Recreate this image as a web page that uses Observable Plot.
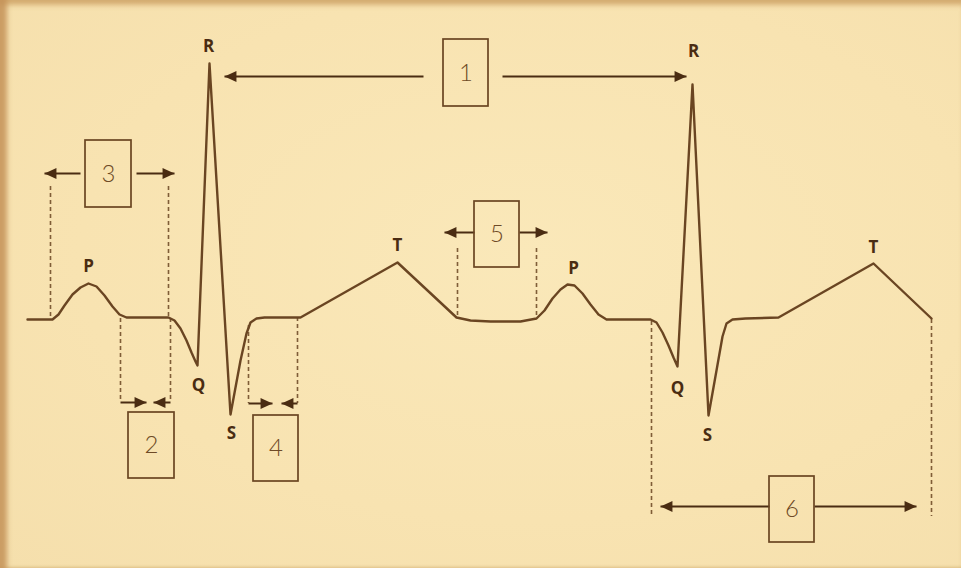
<!DOCTYPE html>
<html>
<head>
<meta charset="utf-8">
<script src="https://cdn.jsdelivr.net/npm/d3@7"></script>
<script src="https://cdn.jsdelivr.net/npm/@observablehq/plot@0.6"></script>
<style>
  html, body { margin: 0; padding: 0; background: #f7e2b0; }
  #chart {
    width: 961px; height: 568px; overflow: hidden;
    background: radial-gradient(ellipse at 55% 45%, #fae8b9 0%, #f8e3b1 60%, #f5dfac 100%);
    box-shadow: inset 10px 0 5px -3px rgba(196,146,88,0.85), inset 0 8px 5px -3px rgba(205,160,100,0.8), inset 0 -3px 3px -2px rgba(200,160,100,0.45);
  }
  #chart svg { background: transparent; display: block; }
</style>
</head>
<body>
<div id="chart"></div>
<script>
// ECG trace (x, y in picture units, y downward)
const waveX = [27, 52, 58, 64, 72, 80, 88, 96, 104, 112, 119, 126, 168, 174, 180, 186, 191, 195, 197, 209, 230, 240, 246, 250, 256, 264, 300, 397, 456, 470, 490, 520, 536, 544, 552, 560, 567, 574, 582, 590, 598, 606, 650, 656, 662, 668, 673, 677, 692, 708, 716, 722, 726, 732, 745, 778, 873, 931];
const waveY = [319, 319, 314, 305, 294, 287, 283, 286, 295, 306, 314, 317, 317, 320, 328, 340, 352, 361, 365, 63, 414, 360, 333, 322, 318, 317, 317, 262, 317, 320, 321, 321, 318, 310, 298, 289, 284, 285, 293, 304, 314, 319, 319, 322, 332, 345, 357, 366, 84, 415, 370, 336, 323, 319, 318, 317, 263, 318];

// wave labels
const waveLabels = ["R", "R", "P", "P", "T", "T", "Q", "Q", "S", "S"];
const waveLabelX = [208, 693, 88, 573, 397, 873, 198, 677, 231, 707];
const waveLabelY = [46, 51, 266, 268, 245, 247, 385, 388, 433, 435];

// numbered boxes
const boxLabels = ["1", "2", "3", "4", "5", "6"];
const boxX1 = [443, 128, 85, 253, 474, 769];
const boxX2 = [488, 174, 131, 298, 519, 814];
const boxY1 = [39, 412, 140, 415, 201, 476];
const boxY2 = [106, 478, 207, 481, 267, 542];

// dashed guide lines
const guideX = [50, 168, 120, 170, 248, 297, 457, 536, 651, 931];
const guideY1 = [186, 186, 318, 318, 325, 317, 248, 248, 321, 319];
const guideY2 = [318, 317, 400, 400, 403, 403, 315, 316, 514, 516];

// arrow shafts and heads (tip x, from x, y)
const arrowTipX = [224, 686, 44, 174, 146, 153, 272, 281, 444, 547, 660, 916];
const arrowFromX = [423, 502, 80, 136, 120, 170, 248, 297, 474, 519, 769, 814];
const arrowY = [76, 76, 173, 173, 402, 402, 403, 403, 232, 232, 506, 506];

const wave = waveX.map((x, i) => ({x, y: waveY[i]}));
const labels = waveLabels.map((t, i) => ({t, x: waveLabelX[i], y: waveLabelY[i]}));
const boxes = boxLabels.map((t, i) => ({t, x1: boxX1[i], x2: boxX2[i], y1: boxY1[i], y2: boxY2[i]}));
const guides = guideX.map((x, i) => ({x, y1: guideY1[i], y2: guideY2[i]}));
const arrows = arrowTipX.map((x, i) => ({tip: x, from: arrowFromX[i], y: arrowY[i], dir: x > arrowFromX[i] ? 1 : -1}));

// arrowhead symbol: tip at origin, pointing right
const head = {
  draw(ctx, size) {
    const L = Math.sqrt(size) * 0.75, W = L * 0.45;
    ctx.moveTo(0, 0);
    ctx.lineTo(-L, -W);
    ctx.lineTo(-L, W);
    ctx.closePath();
  }
};

const ink = "#6a4522";
const dark = "#4a2c12";

const chart = Plot.plot({
  width: 961,
  height: 568,
  margin: 0,
  x: {domain: [0, 961], axis: null},
  y: {domain: [568, 0], axis: null},
  style: {background: "transparent"},
  marks: [
    Plot.ruleX(guides, {x: "x", y1: "y1", y2: "y2", stroke: ink, strokeWidth: 1.6, strokeDasharray: "4,3", strokeOpacity: 0.85}),
    Plot.line(wave, {x: "x", y: "y", stroke: ink, strokeWidth: 2.4, strokeLinejoin: "round", strokeLinecap: "round"}),
    Plot.link(arrows, {x1: "from", x2: "tip", y1: "y", y2: "y", stroke: dark, strokeWidth: 2}),
    Plot.dot(arrows, {x: "tip", y: "y", symbol: head, r: 9, fill: dark, stroke: "none", rotate: d => d.dir > 0 ? 0 : 180}),
    Plot.rect(boxes, {x1: "x1", x2: "x2", y1: "y1", y2: "y2", fill: "none", stroke: ink, strokeWidth: 1.7}),
    Plot.text(boxes, {x: d => (d.x1 + d.x2) / 2, y: d => (d.y1 + d.y2) / 2, text: "t", fontSize: 24, fontFamily: "Lato", fontWeight: 300, fill: "#6e4a26"}),
    Plot.text(labels, {x: "x", y: "y", text: "t", fontSize: 17, fontFamily: "Open Sans", fontWeight: 700, fill: dark})
  ]
});
document.getElementById("chart").appendChild(chart);
</script>
</body>
</html>
